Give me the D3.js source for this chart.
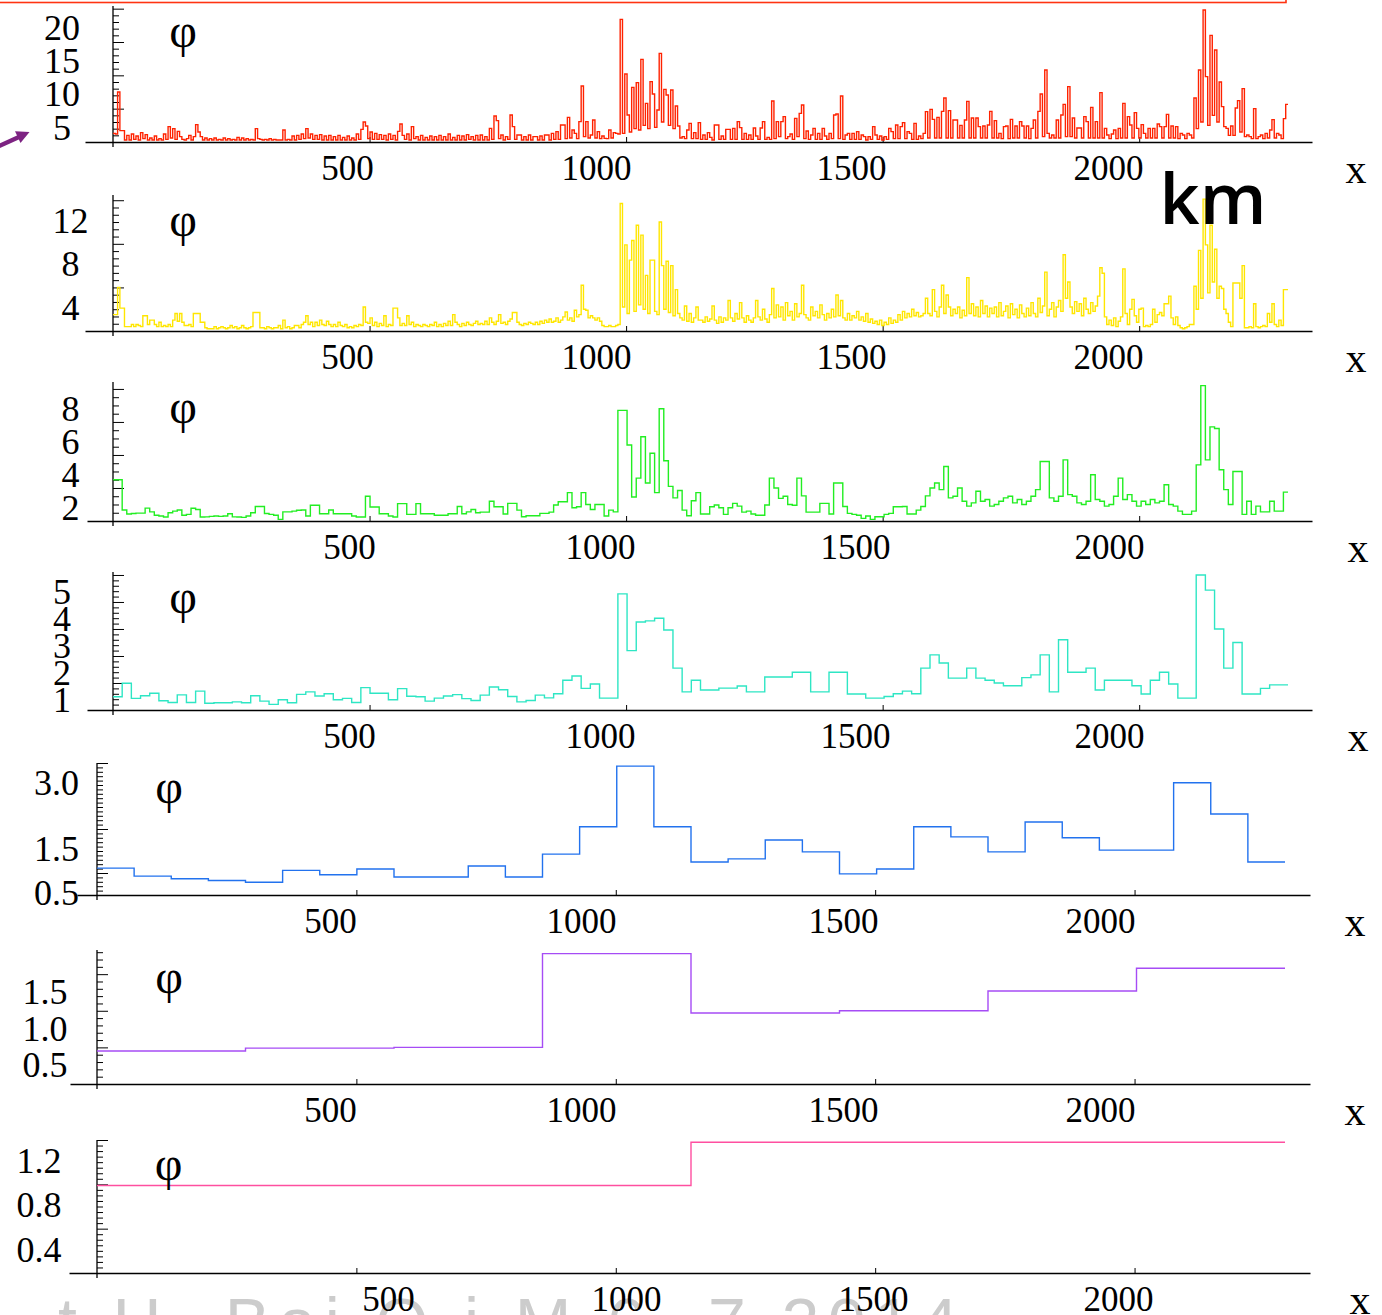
<!DOCTYPE html>
<html>
<head>
<meta charset="utf-8">
<script src="https://cdn.jsdelivr.net/npm/d3@7"></script>
<style>
  html, body { margin: 0; padding: 0; background: #ffffff; }
  svg { display: block; }
</style>
</head>
<body>
<svg id="chart" width="1382" height="1315"></svg>
<script>
// Profile length along x (km) shared by every resolution level
const spanKm = 2290;

// x tick values / labels
const xTicks = [500, 1000, 1500, 2000];

// y tick labels for each level (finest at top)
const yTicksRed = [5, 10, 15, 20];
const yTicksYellow = [4, 8, 12];
const yTicksGreen = [2, 4, 6, 8];
const yTicksCyan = [1, 2, 3, 4, 5];
const yTicksBlue = [0.5, 1.5, 3.0];
const yTicksPurple = [0.5, 1.0, 1.5];
const yTicksPink = [0.4, 0.8, 1.2];

// φ per bin, finest level (512 bins)
const redPhi = [
  1.3,1.2,7.5,1.7,1.7,0.3,1.0,0.3,1.2,0.4,0.9,0.3,1.4,0.5,1.1,0.3,0.6,0.3,0.9,0.3,0.5,0.3,1.2,0.4,2.3,0.6,2.0,0.4,1.6,0.8,0.4,0.3,
  0.5,1.0,0.3,0.8,2.6,1.5,0.8,0.3,0.6,0.3,0.5,0.3,0.6,0.3,0.4,0.3,0.6,0.3,0.5,0.3,0.4,0.3,0.7,0.3,0.6,0.3,0.5,0.3,0.4,0.3,2.0,0.5,
  0.4,0.3,0.4,0.3,0.5,0.3,0.4,0.3,0.3,0.3,1.8,0.3,0.4,0.3,0.9,0.3,1.0,0.4,1.2,0.5,2.0,0.6,1.2,0.4,1.0,0.4,1.1,0.3,0.9,0.3,1.0,0.3,
  0.8,0.3,1.0,0.3,0.7,0.3,0.9,0.3,0.6,0.3,1.2,0.4,1.9,3.0,2.4,0.5,1.5,0.4,1.3,0.4,1.1,0.4,1.0,0.3,1.2,0.4,1.0,0.3,1.6,2.7,1.0,0.4,
  1.2,0.3,2.3,0.5,0.8,0.3,1.0,0.3,0.7,0.3,0.9,0.3,0.8,0.3,1.0,0.3,0.8,0.3,1.2,0.3,0.7,0.3,1.0,0.3,0.9,0.3,1.1,0.4,0.8,0.3,1.0,0.3,
  1.05,0.3,0.8,0.3,2.05,0.4,3.9,3.2,0.5,1.05,0.3,0.8,0.4,4.05,2.3,0.4,1.05,1.05,0.3,0.8,0.3,1.05,0.3,0.8,0.8,0.3,0.9,0.3,1.05,1.05,0.3,1.3,
  0.4,1.55,0.4,2.55,2.55,0.5,3.7,0.6,1.8,1.3,0.5,3.05,8.4,0.8,3.05,0.6,1.05,3.3,0.6,1.55,0.5,0.9,0.55,0.5,1.8,0.6,1.4,1.3,1.2,18.4,1.3,10.2,
  4.05,1.5,8.2,2.0,8.9,1.8,12.4,2.5,5.8,2.0,9.05,7.2,2.2,4.8,13.3,3.0,7.9,7.05,2.5,7.8,2.0,5.4,2.4,0.6,0.8,0.5,1.8,2.8,0.5,1.4,0.5,2.9,
  0.4,1.05,0.4,1.4,0.7,0.3,2.55,2.55,0.4,0.9,0.4,1.9,1.9,0.4,2.05,0.4,3.05,2.15,0.4,1.3,0.4,1.05,0.4,2.1,0.9,0.4,2.1,3.05,0.4,0.7,0.4,6.15,
  0.5,3.05,0.8,3.05,3.8,0.5,0.8,1.2,0.4,3.55,0.8,4.3,5.55,0.5,1.65,0.4,1.05,2.05,0.4,1.3,0.4,2.05,0.9,0.4,1.3,0.5,4.05,4.2,0.5,6.9,0.4,1.05,
  1.3,0.4,1.3,0.4,1.55,0.4,1.05,0.8,0.3,0.8,0.4,2.3,1.05,0.4,0.9,0.3,0.8,0.4,2.05,1.55,0.5,2.55,0.5,2.3,2.9,0.5,1.55,1.3,0.4,2.8,0.4,0.9,
  0.5,1.3,4.55,0.6,4.9,3.4,0.6,3.7,0.6,4.6,6.6,0.6,4.7,0.6,3.3,3.3,0.6,2.5,0.6,3.3,6.1,0.6,3.6,0.6,3.6,2.3,0.6,2.4,0.6,2.55,4.6,0.6,
  3.2,0.6,1.3,0.5,2.3,2.4,0.5,3.4,0.6,2.4,0.6,3.05,2.4,0.6,2.4,0.5,2.05,3.3,0.6,4.6,7.2,0.8,10.8,1.3,0.6,1.05,0.6,3.3,0.6,4.05,5.65,0.8,
  8.3,0.8,3.6,0.6,2.1,2.1,0.6,3.8,3.05,0.6,5.2,0.6,3.05,0.6,7.4,0.6,2.05,1.05,0.5,1.2,1.8,0.5,2.05,0.6,5.8,0.6,3.8,2.55,0.6,4.4,2.05,0.6,
  2.6,1.3,0.6,2.05,0.6,2.05,0.6,2.7,2.3,0.6,2.3,4.15,0.6,2.4,0.6,2.3,0.5,1.3,1.05,0.5,1.3,1.05,0.6,6.6,2.0,10.8,3.0,19.8,9.8,2.5,16.0,4.0,
  13.8,3.0,9.0,5.3,2.3,2.05,1.0,2.4,1.0,5.1,6.2,1.5,8.0,0.8,1.05,0.8,0.5,5.0,0.5,0.8,1.05,0.5,1.3,0.6,1.8,3.35,0.6,1.3,1.05,0.5,3.5,5.65
];

// φ per bin, 512 bins
const yellowPhi = [
  1.5,1.5,4.0,2.1,2.1,0.4,0.4,0.4,0.6,0.4,0.6,0.5,0.4,1.4,1.4,0.6,1.0,1.0,0.6,0.4,0.8,0.4,0.5,0.4,0.6,0.4,1.0,1.6,0.9,1.6,0.8,0.5,
  0.5,0.6,0.4,1.6,1.6,1.6,0.8,0.8,0.3,0.2,0.2,0.2,0.4,0.2,0.3,0.4,0.3,0.2,0.3,0.5,0.3,0.4,0.2,0.3,0.5,0.3,0.2,0.3,0.4,1.7,1.7,1.7,
  0.3,0.3,0.2,0.4,0.3,0.2,0.3,0.3,0.5,0.2,1.0,0.3,0.4,0.2,0.3,0.5,0.5,0.3,0.6,0.8,1.4,0.6,0.8,0.4,0.8,0.5,1.0,0.6,0.5,0.9,0.6,0.4,
  0.6,0.4,0.8,0.5,0.4,0.6,0.3,0.4,0.3,0.5,0.4,0.6,0.5,2.2,0.8,0.7,1.2,0.5,0.8,0.4,0.7,0.5,1.4,0.4,0.6,0.5,2.1,2.1,1.2,0.5,0.7,0.5,
  1.4,0.6,0.8,0.4,0.6,0.5,0.4,0.6,0.5,0.4,0.6,0.5,0.8,0.4,0.6,0.4,0.7,0.5,0.9,0.5,1.5,0.8,0.6,0.4,0.7,0.5,0.8,0.6,0.5,0.7,0.9,0.6,
  0.7,0.6,0.9,0.6,1.2,0.8,0.6,0.9,1.5,0.7,0.8,0.6,0.9,1.1,1.7,1.7,0.8,0.6,0.5,0.7,0.6,0.8,0.7,0.6,0.8,0.6,0.9,0.7,1.0,0.8,1.1,0.8,
  0.9,1.2,0.8,1.0,1.3,1.75,1.0,1.2,0.9,1.9,1.3,1.5,4.2,2.0,1.9,1.2,1.4,1.2,1.0,1.2,0.9,0.5,0.4,0.4,0.5,0.4,0.4,0.5,0.6,11.7,2.2,7.9,
  1.6,6.5,8.3,1.8,9.7,2.4,8.8,2.0,5.1,1.6,6.5,6.5,1.8,1.5,10.0,6.0,2.0,6.4,1.7,6.0,1.4,3.8,1.6,1.2,1.0,2.3,0.9,1.6,0.8,1.2,2.2,1.0,
  1.0,0.8,1.3,0.9,1.1,2.3,1.0,0.7,1.3,0.8,1.2,1.0,2.8,1.2,0.9,1.6,1.1,2.6,1.2,0.8,1.4,1.0,0.8,1.2,2.8,1.3,1.0,2.0,1.1,0.8,1.5,3.9,
  1.2,2.4,1.3,2.2,1.0,2.6,1.4,1.8,1.0,2.5,1.3,1.6,4.2,1.5,1.2,1.0,2.2,1.4,1.8,1.2,2.4,1.5,1.0,1.6,1.2,2.0,1.3,3.3,1.4,2.8,1.2,1.0,
  1.6,1.0,1.4,1.2,1.8,1.0,1.3,0.9,1.6,0.8,1.1,0.7,0.9,0.6,1.0,0.5,0.8,0.6,1.2,0.7,1.0,0.8,1.5,1.0,1.8,1.2,1.6,1.3,2.0,1.4,1.7,1.3,
  1.4,1.6,3.0,1.6,1.4,3.8,1.8,1.3,2.2,4.2,1.6,3.3,2.2,1.4,2.0,1.6,2.2,1.2,1.9,1.4,4.9,1.6,2.5,1.4,2.2,1.3,2.8,1.6,2.3,1.3,2.1,1.6,
  2.2,1.3,2.6,1.4,1.8,2.3,1.2,2.5,1.5,2.0,1.2,2.4,1.6,1.3,2.1,1.4,2.6,1.6,1.3,3.0,1.7,2.3,5.4,1.4,2.0,2.6,1.3,2.2,2.8,1.8,7.0,3.0,
  4.5,2.2,1.6,2.7,1.8,2.5,1.4,3.0,2.0,1.6,2.6,1.8,2.3,3.2,5.8,5.3,1.3,0.6,1.0,0.5,1.2,0.4,0.9,1.3,5.7,1.6,0.6,2.0,2.9,1.4,0.8,2.0,
  2.1,0.4,0.5,0.4,0.6,2.0,0.8,1.5,1.7,1.4,2.5,2.5,3.2,1.2,0.6,1.3,0.5,0.3,0.2,0.3,0.4,0.6,0.6,4.1,2.0,7.4,3.0,12.1,7.9,3.5,9.7,4.5,
  7.5,3.0,4.1,3.9,2.0,1.6,0.8,0.4,4.4,4.4,4.4,3.0,6.0,0.3,0.3,0.4,0.3,2.5,0.4,0.3,0.4,0.5,0.4,1.6,0.8,2.5,0.6,0.4,1.0,0.5,3.8,3.8
];

// φ per bin, 256 bins
const greenPhi = [
  2.5,2.5,0.67,0.42,0.45,0.48,0.48,0.78,0.55,0.35,0.3,0.24,0.5,0.6,0.67,0.35,
  0.4,0.77,0.7,0.24,0.25,0.28,0.3,0.28,0.3,0.44,0.25,0.24,0.22,0.3,0.5,0.88,
  0.88,0.45,0.4,0.35,0.1,0.55,0.55,0.6,0.65,0.67,0.3,0.95,0.95,0.44,0.44,0.67,
  0.44,0.44,0.44,0.44,0.3,0.24,0.24,1.5,0.85,0.85,0.44,0.44,0.3,0.24,1.05,1.05,
  0.4,0.4,1.05,0.44,0.44,0.44,0.35,0.35,0.35,0.44,0.44,0.88,0.44,0.55,0.7,0.5,
  0.54,0.54,1.2,0.86,0.86,0.42,1.07,1.07,0.66,0.26,0.32,0.32,0.32,0.46,0.46,0.54,
  0.97,1.17,1.17,1.72,0.8,0.86,1.72,1.0,0.7,1.0,1.0,0.3,0.66,0.55,6.7,6.7,
  4.6,1.45,2.6,5.1,2.3,4.1,1.72,6.8,3.65,2.1,1.4,1.85,0.66,0.32,1.23,1.72,
  0.42,0.42,0.86,0.97,0.8,0.4,0.8,1.07,0.9,0.54,0.6,0.42,0.35,0.35,0.97,2.6,
  2.0,1.37,1.5,1.0,0.95,2.6,1.52,0.54,0.54,0.54,1.07,1.07,0.42,2.3,2.3,0.88,
  0.46,0.4,0.35,0.16,0.3,0.1,0.26,0.26,0.4,0.46,0.86,0.86,0.88,0.42,0.42,0.66,
  0.88,1.52,2.0,2.3,1.9,3.3,1.4,1.5,2.0,1.2,0.9,1.1,1.8,1.2,1.3,0.9,
  1.0,1.2,1.4,1.5,1.1,1.3,1.0,1.2,1.5,1.9,3.6,3.6,1.4,1.2,1.5,3.7,
  1.6,1.5,1.1,1.0,1.2,2.8,1.3,1.2,0.9,1.0,1.5,2.6,1.3,1.6,1.2,0.9,
  1.2,1.0,1.3,1.1,1.2,2.2,1.0,0.9,0.6,0.4,0.4,0.6,3.4,8.2,3.7,5.7,
  5.6,3.1,1.9,1.0,3.0,3.0,0.4,1.2,0.4,0.9,0.55,0.55,1.2,0.6,0.6,1.75
];

// φ per bin, 128 bins
const cyanPhi = [
  0.49,0.99,0.43,0.53,0.62,0.34,0.28,0.56,
  0.28,0.70,0.25,0.27,0.27,0.30,0.27,0.53,
  0.33,0.21,0.38,0.27,0.58,0.67,0.52,0.60,
  0.38,0.43,0.28,0.83,0.62,0.62,0.38,0.79,
  0.51,0.49,0.33,0.44,0.52,0.57,0.42,0.35,
  0.55,0.85,0.75,0.50,0.30,0.35,0.55,0.45,
  0.60,1.10,1.26,0.80,0.96,0.44,0.44,4.30,
  2.20,3.26,3.30,3.40,2.96,1.55,0.67,1.10,
  0.74,0.74,0.81,0.81,0.89,0.67,0.67,1.22,
  1.22,1.22,1.40,1.40,0.67,0.67,1.40,1.40,
  0.59,0.59,0.44,0.44,0.50,0.60,0.70,0.60,
  1.55,2.04,1.74,1.18,1.18,1.55,1.18,1.10,
  1.00,0.90,0.90,1.20,1.30,2.04,0.67,2.60,
  1.40,1.40,1.55,0.74,1.10,1.10,1.10,0.90,
  0.59,1.10,1.40,0.96,0.44,0.44,5.00,4.44,
  3.00,1.55,2.50,0.59,0.59,0.80,0.93,0.93
];

// φ per bin, 32 bins
const bluePhi = [
  0.61,0.43,0.37,0.33,0.29,0.56,0.46,0.59,
  0.41,0.41,0.66,0.41,0.93,1.55,2.93,1.55,
  0.75,0.82,1.25,0.98,0.48,0.59,1.55,1.32,
  0.98,1.66,1.30,1.02,1.02,2.55,1.84,0.75
];

// φ per bin, 8 bins
const purplePhi = [0.45, 0.49, 0.50, 1.78, 0.97, 1.00, 1.27, 1.58];

// φ per bin, coarsest level (2 bins)
const pinkPhi = [0.79, 1.18];

// ---------------------------------------------------------------------------
// Panel frames: pixel geometry and styling for each resolution level
const panels = [
  { data: redPhi,    ticks: yTicksRed,    fmt: "d",   color: "#ff2200",
    axisY: 142,  topY: 6,    yTop: 20.4,  minor: 1,     plotL: 113, plotR: 1288, axisL: 85, axisR: 1312,
    labX: 62,   labDy: 19,   xLab: [347, 596, 851, 1108], phiX: 183,   phiY: 47,   xNameX: 1356 },
  { data: yellowPhi, ticks: yTicksYellow, fmt: "d",   color: "#ffe600",
    axisY: 331,  topY: 195,  yTop: 12.48, minor: 2 / 3, plotL: 113, plotR: 1288, axisL: 85, axisR: 1312,
    labX: 70.5, labDy: 20.5, xLab: [347, 596, 851, 1108], phiX: 183,   phiY: 236,  xNameX: 1356 },
  { data: greenPhi,  ticks: yTicksGreen,  fmt: "d",   color: "#22ee22",
    axisY: 521,  topY: 382,  yTop: 8.42,  minor: 0.5,   plotL: 113, plotR: 1288, axisL: 87, axisR: 1312,
    labX: 70.5, labDy: 20,   xLab: [349, 600, 855, 1109], phiX: 183,   phiY: 423,  xNameX: 1358 },
  { data: cyanPhi,   ticks: yTicksCyan,   fmt: "d",   color: "#2ee6c4",
    axisY: 710,  topY: 572,  yTop: 5.11,  minor: 0.2,   plotL: 113, plotR: 1288, axisL: 87, axisR: 1312,
    labX: 62,   labDy: 17,   xLab: [349, 600, 855, 1109], phiX: 183,   phiY: 613,  xNameX: 1358 },
  { data: bluePhi,   ticks: yTicksBlue,   fmt: ".1f", color: "#2272ee",
    axisY: 895,  topY: 763,  yTop: 3.0,   minor: 0.1,   plotL: 97,  plotR: 1285, axisL: 77, axisR: 1310,
    labX: 56.5, labDy: 19.5, xLab: [330, 581, 843, 1100], phiX: 169,   phiY: 803,  xNameX: 1355 },
  { data: purplePhi, ticks: yTicksPurple, fmt: ".1f", color: "#a64cf5",
    axisY: 1084, topY: 950,  yTop: 1.83,  minor: 0.1,   plotL: 97,  plotR: 1285, axisL: 70, axisR: 1310,
    labX: 45,   labDy: 17.7, xLab: [330, 581, 843, 1100], phiX: 169,   phiY: 993,  xNameX: 1355 },
  { data: pinkPhi,   ticks: yTicksPink,   fmt: ".1f", color: "#ff4fa0",
    axisY: 1273, topY: 1140, yTop: 1.2,   minor: 0.05,  plotL: 97,  plotR: 1285, axisL: 69, axisR: 1310,
    labX: 39,   labDy: 21,   xLab: [388, 626, 873, 1118], phiX: 168.5, phiY: 1180, xNameX: 1360 }
];

const SERIF = "'Liberation Serif', 'Times New Roman', serif";
const svg = d3.select("#chart");

svg.append("rect").attr("width", 1382).attr("height", 1315).attr("fill", "#ffffff");

// faint footer line running under the bottom panel
svg.append("text")
  .attr("x", 58).attr("y", 1346)
  .attr("font-family", "'Liberation Sans', Arial, sans-serif")
  .attr("font-size", 68)
  .attr("fill", "#cccccc")
  .attr("textLength", 900)
  .text("t H. Bai  Q i  M  6, 7 2014");

// highlight frame around the top panel
svg.append("rect")
  .attr("x", -10).attr("y", -40)
  .attr("width", 1296).attr("height", 42.5)
  .attr("fill", "none")
  .attr("stroke", "#ff3311")
  .attr("stroke-width", 1.6);

panels.forEach(p => {
  const g = svg.append("g");

  const x = d3.scaleLinear().domain([0, spanKm]).range([p.plotL, p.plotR]);
  const y = d3.scaleLinear().domain([0, p.yTop]).range([p.axisY, p.topY]);

  // x axis: line and small inward ticks
  const xAxisScale = d3.scaleLinear()
    .domain([x.invert(p.axisL), x.invert(p.axisR)])
    .range([p.axisL, p.axisR]);
  const xAxisG = g.append("g")
    .attr("transform", `translate(0,${p.axisY})`)
    .call(d3.axisBottom(xAxisScale).tickValues(xTicks).tickSizeInner(-5).tickSizeOuter(0).tickFormat(""));
  xAxisG.select(".domain").attr("stroke", "#000").attr("stroke-width", 1.3);
  xAxisG.selectAll(".tick line").attr("stroke", "#000").attr("stroke-width", 1);

  // x tick labels (placed on their own piecewise scale)
  const xLabelScale = d3.scaleLinear().domain(xTicks).range(p.xLab);
  const xLabG = g.append("g")
    .attr("transform", `translate(0,${p.axisY})`)
    .call(d3.axisBottom(xLabelScale).tickValues(xTicks).tickSize(0).tickPadding(13).tickFormat(d3.format("d")));
  xLabG.select(".domain").remove();
  xLabG.attr("font-family", SERIF).attr("font-size", 35);
  xLabG.selectAll("text").attr("fill", "#000");

  // y axis line (extends a little below the x axis)
  g.append("line")
    .attr("x1", p.plotL).attr("x2", p.plotL)
    .attr("y1", p.axisY + 5).attr("y2", p.topY)
    .attr("stroke", "#000").attr("stroke-width", 1.3);

  // y ticks: minor and major, pointing into the plot
  const eps = 1e-6;
  const minorVals = d3.range(p.minor, p.yTop + eps, p.minor)
    .filter(v => !p.ticks.some(t => Math.abs(t - v) < 1e-4));
  const minorG = g.append("g")
    .attr("transform", `translate(${p.plotL},0)`)
    .call(d3.axisRight(y).tickValues(minorVals).tickSize(6).tickFormat(""));
  minorG.select(".domain").remove();
  minorG.selectAll(".tick line").attr("stroke", "#000").attr("stroke-width", 1);

  const majorG = g.append("g")
    .attr("transform", `translate(${p.plotL},0)`)
    .call(d3.axisRight(y).tickValues(p.ticks).tickSize(11).tickFormat(""));
  majorG.select(".domain").remove();
  majorG.selectAll(".tick line").attr("stroke", "#000").attr("stroke-width", 1);

  // y tick labels
  const yLabG = g.append("g")
    .attr("transform", `translate(${p.labX},${p.labDy})`)
    .call(d3.axisLeft(y).tickValues(p.ticks).tickSize(0).tickFormat(d3.format(p.fmt)));
  yLabG.select(".domain").remove();
  yLabG.attr("font-family", SERIF).attr("font-size", 36).attr("text-anchor", "middle");
  yLabG.selectAll("text").attr("x", 0).attr("fill", "#000");

  // the stepped φ profile
  const binKm = spanKm / p.data.length;
  const pts = p.data.map((v, i) => [i * binKm, v]);
  pts.push([spanKm, p.data[p.data.length - 1]]);
  const line = d3.line()
    .x(d => x(d[0]))
    .y(d => y(d[1]))
    .curve(d3.curveStepAfter);
  g.append("path")
    .datum(pts)
    .attr("d", line)
    .attr("fill", "none")
    .attr("stroke", p.color)
    .attr("stroke-width", 1.4)
    .attr("stroke-linejoin", "miter");

  // axis names
  g.append("text")
    .attr("x", p.phiX).attr("y", p.phiY)
    .attr("text-anchor", "middle")
    .attr("font-family", SERIF).attr("font-size", 48)
    .attr("fill", "#000")
    .text("φ");
  g.append("text")
    .attr("x", p.xNameX).attr("y", p.axisY + 41)
    .attr("text-anchor", "middle")
    .attr("font-family", SERIF).attr("font-size", 42)
    .attr("fill", "#000")
    .text("x");
});

// distance unit
svg.append("text")
  .attr("x", 1213).attr("y", 224)
  .attr("text-anchor", "middle")
  .attr("font-family", "'Open Sans', 'DejaVu Sans', sans-serif")
  .attr("font-weight", 600)
  .attr("font-size", 70)
  .attr("fill", "#000")
  .text("km");

// pointer arrow toward the top panel
svg.append("line")
  .attr("x1", -2).attr("y1", 146.5).attr("x2", 19).attr("y2", 137)
  .attr("stroke", "#7d2382").attr("stroke-width", 4.5);
svg.append("polygon")
  .attr("points", "29.5,132 15,131.2 20.5,143")
  .attr("fill", "#7d2382");
</script>
</body>
</html>
